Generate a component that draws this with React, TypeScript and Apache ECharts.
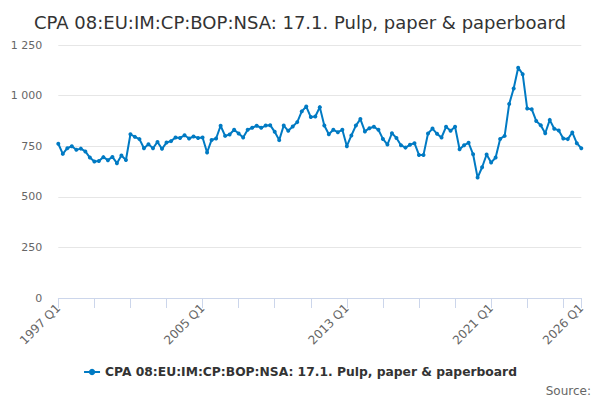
import React, { useEffect, useRef } from "react";
import * as echarts from "echarts";

const TITLE = "CPA 08:EU:IM:CP:BOP:NSA: 17.1. Pulp, paper & paperboard";
const SERIES_NAME = "CPA 08:EU:IM:CP:BOP:NSA: 17.1. Pulp, paper & paperboard";
const START_YEAR = 1997;
const END_YEAR = 2026;

// quarterly values 1997 Q1 .. 2026 Q1
const values1997to2009: number[] = [
  762, 712, 740, 750, 732, 738, 724, 694, 674, 677, 696, 681, 697, 666, 704, 682,
  809, 796, 785, 740, 760, 740, 771, 737, 768, 775, 793, 791, 804, 788, 798, 791,
  793, 719, 781, 788, 851, 801, 808, 831, 813, 793, 831, 841, 851, 841, 852, 854,
];
const values2009to2021: number[] = [
  821, 780, 852, 826, 847, 869, 922, 946, 894, 897, 943, 852, 809, 831, 819, 831,
  750, 803, 852, 884, 823, 839, 846, 831, 786, 758, 814, 791, 755, 743, 757, 765,
  707, 707, 813, 837, 811, 793, 846, 826, 846, 735, 755, 767, 710, 595, 646, 709,
];
const values2021to2026: number[] = [
  669, 694, 786, 801, 958, 1035, 1138, 1106, 936, 933, 875, 854, 814, 880, 836, 828,
  788, 785, 818, 765, 740,
];
const seriesValues = [...values1997to2009, ...values2009to2021, ...values2021to2026];

const categories: string[] = [];
for (let y = START_YEAR; y <= END_YEAR; y++) {
  for (let q = 1; q <= 4; q++) {
    if (y === END_YEAR && q > 1) break;
    categories.push(`${y} Q${q}`);
  }
}
const tickLabels = ["1997 Q1", "2005 Q1", "2013 Q1", "2021 Q1", "2026 Q1"];

const FONT = "DejaVu Sans";

export default function App() {
  const ref = useRef<HTMLDivElement>(null);
  useEffect(() => {
    if (!ref.current) return;
    const chart = echarts.init(ref.current, null, { renderer: "svg" });
    const last = categories.length - 1;
    chart.setOption({
      animation: false,
      title: {
        text: TITLE,
        left: "center",
        top: 8,
        textStyle: { fontFamily: FONT, fontSize: 18, fontWeight: "normal", color: "#333333" },
      },
      grid: { left: 58.3, right: 18.7, top: 45, bottom: 102, containLabel: false },
      legend: {
        bottom: 17,
        left: "center",
        itemWidth: 16,
        itemHeight: 8,
        itemGap: 10,
        textStyle: { fontFamily: FONT, fontSize: 12.3, fontWeight: "bold", color: "#333333" },
        data: [SERIES_NAME],
      },
      graphic: [
        {
          type: "text",
          right: 9,
          bottom: 3,
          style: { text: "Source:", fill: "#666666", font: `12px "${FONT}"` },
        },
      ],
      xAxis: {
        type: "category",
        data: categories,
        boundaryGap: false,
        axisLine: { lineStyle: { color: "#ccd6eb" } },
        axisTick: {
          length: 10,
          lineStyle: { color: "#ccd6eb" },
          interval: (i: number) => i % 8 === 0 || i === last,
        },
        axisLabel: {
          rotate: 45,
          margin: 8,
          color: "#666666",
          fontFamily: FONT,
          fontSize: 12,
          interval: (i: number, v: string) => tickLabels.includes(v),
        },
        splitLine: { show: false },
      },
      yAxis: {
        type: "value",
        min: 0,
        max: 1250,
        interval: 250,
        axisLine: { show: false },
        axisTick: { show: false },
        axisLabel: {
          margin: 16,
          color: "#666666",
          fontFamily: FONT,
          fontSize: 11,
          formatter: (v: number) => String(v).replace(/\B(?=(\d{3})+(?!\d))/g, " "),
        },
        splitLine: { lineStyle: { color: "#e6e6e6" } },
      },
      series: [
        {
          name: SERIES_NAME,
          type: "line",
          data: seriesValues,
          symbol: "circle",
          symbolSize: 4,
          showSymbol: true,
          showAllSymbol: true,
          lineStyle: { width: 2, color: "#007ac3" },
          itemStyle: { color: "#007ac3" },
        },
      ],
    });
    return () => chart.dispose();
  }, []);
  return (
    <div
      ref={ref}
      style={{ position: "fixed", left: 0, top: 0, width: 600, height: 400, background: "#ffffff" }}
    />
  );
}
